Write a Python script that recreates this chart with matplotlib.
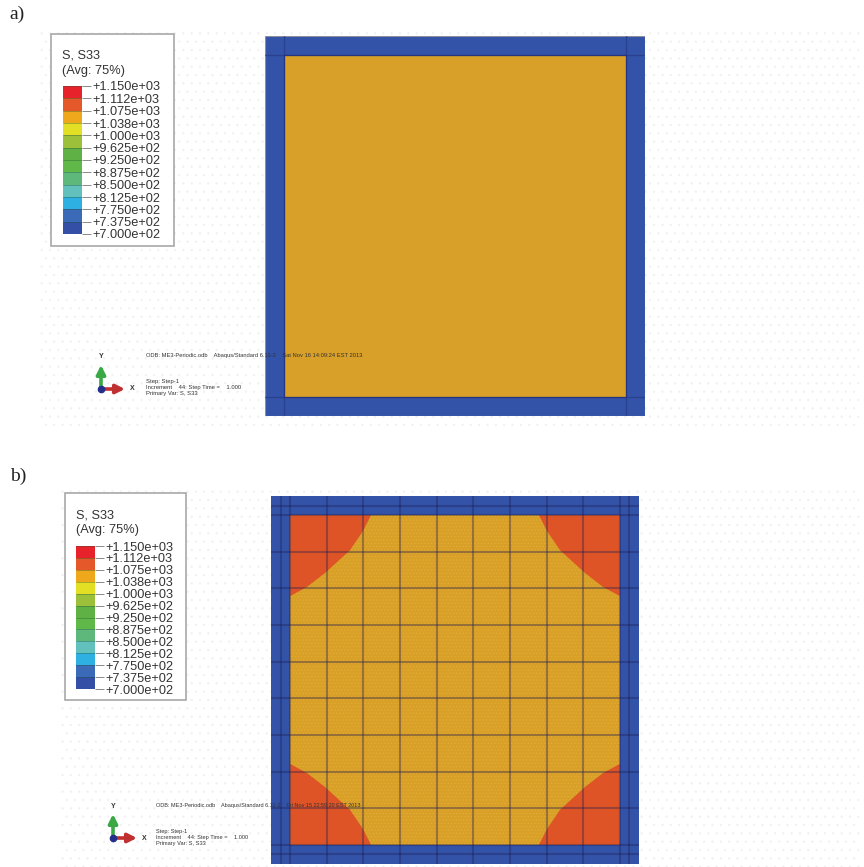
#Recreates the two S33 stress contour plots (a: uniform core, b: meshed with hot corners)

import matplotlib
matplotlib.use('Agg')
import matplotlib.pyplot as plt
from matplotlib.patches import Rectangle, Polygon

W = 864
H = 867

level_values = [1150, 1112.5, 1075, 1037.5, 1000, 962.5, 925, 887.5, 850, 812.5, 775, 737.5, 700]
level_labels = ['+1.150e+03', '+1.112e+03', '+1.075e+03', '+1.038e+03', '+1.000e+03', '+9.625e+02', '+9.250e+02',
                '+8.875e+02', '+8.500e+02', '+8.125e+02', '+7.750e+02', '+7.375e+02', '+7.000e+02']
level_colors = ['#e8222b', '#e4582a', '#efa81c', '#e3df24', '#9cc03a', '#5fb146', '#5fb848',
                '#5eb87c', '#62c0bd', '#2fb0e2', '#3a6ab8', '#3350a6']

#mesh lines of plate b, fraction of plate width
mesh_b = [0.026, 0.052, 0.152, 0.251, 0.351, 0.45, 0.55, 0.649, 0.749, 0.848, 0.948, 0.974]
#contour of the high stress corner, fraction of plate width from the corner
corner_x = [0.272, 0.25, 0.215, 0.147, 0.098, 0.052]
corner_y = [0.052, 0.095, 0.147, 0.209, 0.247, 0.272]

frame_a = 0.05
frame_b = 0.052

odb_a = 'ODB: ME3-Periodic.odb    Abaqus/Standard 6.11-2    Sat Nov 16 14:09:24 EST 2013'
odb_b = 'ODB: ME3-Periodic.odb    Abaqus/Standard 6.11-2    Fri Nov 15 22:59:20 EST 2013'
step_text = ['Step: Step-1', 'Increment    44: Step Time =    1.000', 'Primary Var: S, S33']

BLUE = '#3353a8'
ORANGE = '#d8a028'
RED = '#de5426'

plt.rcParams['font.family'] = ['Liberation Sans', 'DejaVu Sans']
plt.rcParams['hatch.linewidth'] = 0.4


def px_axes(fig, x0, y0, x1, y1):
    #axes placed by reference pixels, y measured from the top
    return fig.add_axes([x0 / W, 1 - y1 / H, (x1 - x0) / W, (y1 - y0) / H])


def pixel_layer(fig, z):
    #full figure axes in reference pixels
    ax = fig.add_axes([0, 0, 1, 1])
    ax.set_xlim(0, W)
    ax.set_ylim(H, 0)
    ax.axis('off')
    ax.set_zorder(z)
    ax.patch.set_alpha(0)
    return ax


def draw_legend(fig, overlay, box, bar):
    overlay.add_patch(Rectangle((box[0], box[1]), box[2] - box[0], box[3] - box[1], fc='white', ec='#a8a8a8', lw=1.2, zorder=2))
    overlay.text(box[0] + 11, box[1] + 22, 'S, S33', fontsize=9.2, color='#333333', va='center', zorder=3)
    overlay.text(box[0] + 11, box[1] + 37, '(Avg: 75%)', fontsize=9.2, color='#333333', va='center', zorder=3)

    ax = px_axes(fig, *bar)
    ax.set_zorder(6)
    ax.patch.set_alpha(0)
    for i in range(len(level_colors)):
        ax.bar(0, level_values[i] - level_values[i + 1], bottom=level_values[i + 1], width=1, color=level_colors[i])
    ax.hlines(level_values, -0.5, 0.5, color='#205030', lw=0.5, alpha=0.5)
    ax.set_xlim(-0.5, 0.5)
    ax.set_ylim(min(level_values), max(level_values))
    ax.set_xticks([])
    ax.yaxis.tick_right()
    ax.set_yticks(level_values)
    ax.set_yticklabels(level_labels, fontsize=9.2, color='#333333')
    ax.tick_params(axis='y', length=6.5, width=0.6, color='#777777', pad=1)
    for s in ax.spines.values():
        s.set_visible(False)


def draw_triad(overlay, x, y):
    overlay.annotate('', xy=(x, y - 24), xytext=(x, y), zorder=3,
                     arrowprops=dict(arrowstyle='-|>', color='#3aa845', lw=2.6, mutation_scale=13, shrinkA=0, shrinkB=0))
    overlay.annotate('', xy=(x + 24, y), xytext=(x, y), zorder=3,
                     arrowprops=dict(arrowstyle='-|>', color='#c03030', lw=2.6, mutation_scale=13, shrinkA=0, shrinkB=0))
    overlay.plot([x], [y], 'o', ms=4.5, color='#22308a', zorder=4)
    overlay.text(x, y - 32, 'Y', fontsize=5, weight='bold', color='#333333', ha='center', va='center', zorder=3)
    overlay.text(x + 31, y, 'X', fontsize=5, weight='bold', color='#333333', ha='center', va='center', zorder=3)


def draw_notes(overlay, x, y_odb, y_step, odb, size, step_size):
    overlay.text(x, y_odb, odb, fontsize=size, color='#333333', va='center', zorder=6)
    for i in range(len(step_text)):
        overlay.text(x, y_step + i * 6, step_text[i], fontsize=step_size, color='#333333', va='center', zorder=3)


def plate_axes(fig, x0, y0, x1, y1):
    ax = px_axes(fig, x0, y0, x1, y1)
    ax.set_xlim(0, 1)
    ax.set_ylim(0, 1)
    ax.axis('off')
    ax.set_zorder(1)
    return ax


fig = plt.figure(figsize=(W / 100, H / 100), dpi=100)

#faint dot texture of the exported viewport, below the plates
background = pixel_layer(fig, 0)
background.add_patch(Rectangle((40, 30), 820, 396, fc='none', ec='#f0f0f0', lw=0, hatch='..'))
background.add_patch(Rectangle((60, 490), 800, 377, fc='none', ec='#f0f0f0', lw=0, hatch='..'))

overlay = pixel_layer(fig, 5)

overlay.text(9, 14, 'a)', family='Liberation Serif', fontsize=14, color='#222222', va='center')
overlay.text(10, 476, 'b)', family='Liberation Serif', fontsize=14, color='#222222', va='center')

#plate a
ax_a = plate_axes(fig, 265, 36, 645, 416)
ax_a.add_patch(Rectangle((0, 0), 1, 1, fc=BLUE, ec='#8a8f9a', lw=0.8))
for p in [frame_a, 1 - frame_a]:
    ax_a.plot([p, p], [0, 1], color='#27357f', lw=1, alpha=0.6)
    ax_a.plot([0, 1], [p, p], color='#27357f', lw=1, alpha=0.6)
ax_a.add_patch(Rectangle((frame_a, frame_a), 1 - 2 * frame_a, 1 - 2 * frame_a, fc=ORANGE, ec='#27357f', lw=0.8))

#plate b
ax_b = plate_axes(fig, 271, 496, 639, 864)
ax_b.add_patch(Rectangle((0, 0), 1, 1, fc=BLUE, ec='none'))
ax_b.add_patch(Rectangle((frame_b, frame_b), 1 - 2 * frame_b, 1 - 2 * frame_b, fc=ORANGE, ec='#e6b030', lw=0, hatch='.....'))
for i in [0, 1]:
    for j in [0, 1]:
        xs = [abs(i - v) for v in [frame_b] + corner_x]
        ys = [abs(j - v) for v in [frame_b] + corner_y]
        ax_b.add_patch(Polygon(list(zip(xs, ys)), fc=RED, ec='none'))
for m in mesh_b:
    ax_b.plot([m, m], [0, 1], color='#1d1d55', lw=1.5, alpha=0.36)
    ax_b.plot([0, 1], [m, m], color='#1d1d55', lw=1.5, alpha=0.36)

draw_legend(fig, overlay, (51, 34, 174, 246), (63, 86, 82, 234))
draw_legend(fig, overlay, (65, 493, 186, 700), (76, 546, 95, 689))

draw_triad(overlay, 101, 389)
draw_triad(overlay, 113, 838)

#the notes run across the plates, the overlay keeps them on top
draw_notes(overlay, 146, 356, 382, odb_a, 4.15, 4.2)
draw_notes(overlay, 156, 806, 831, odb_b, 3.95, 4.05)

fig.savefig('out.png', dpi=100)
